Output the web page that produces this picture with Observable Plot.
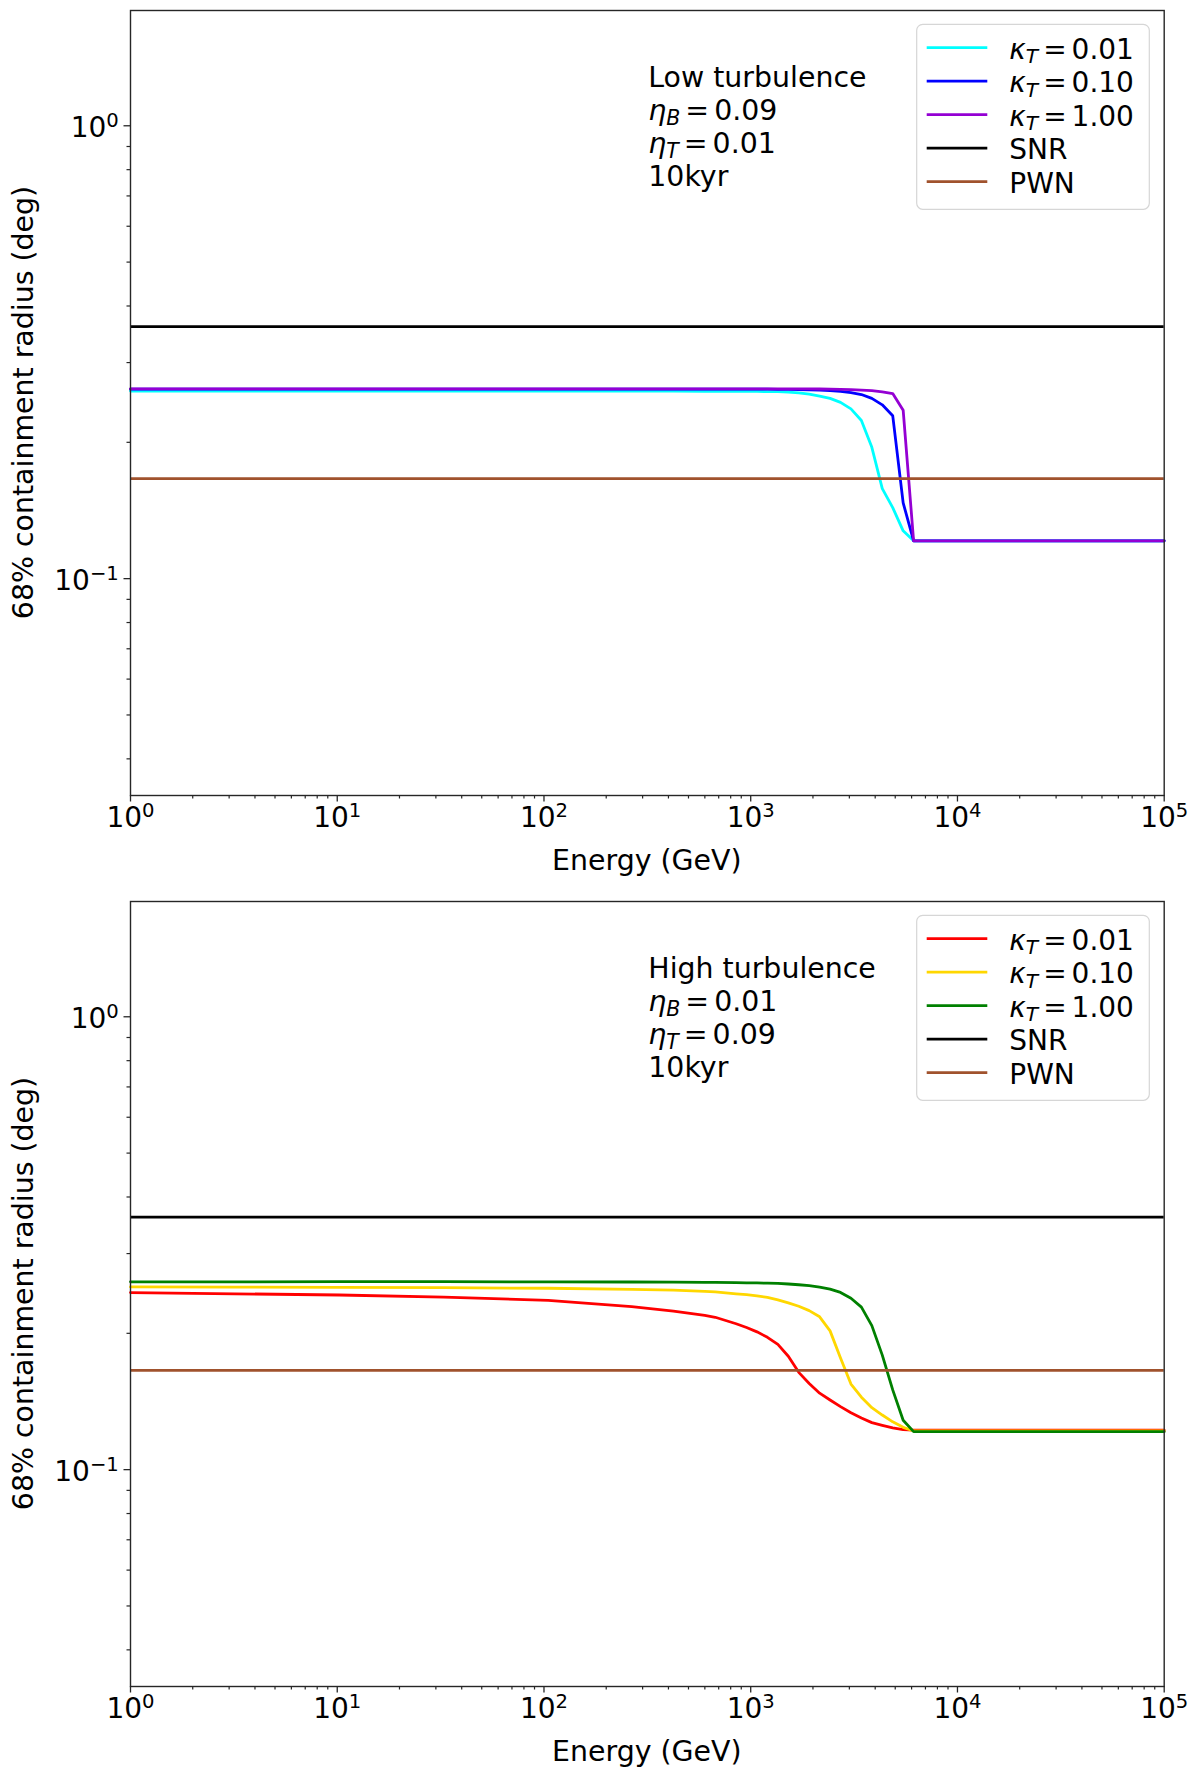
<!DOCTYPE html>
<html>
<head>
<meta charset="utf-8">
<script src="https://cdn.jsdelivr.net/npm/d3@7"></script>
<script src="https://cdn.jsdelivr.net/npm/@observablehq/plot@0.6"></script>
<style>
  body { margin: 0; background: #fff; }
  svg { display: block; }
</style>
</head>
<body>
<div id="chart"></div>
<script>
// ---------- data ----------
const energyGeV = [1, 3.199, 10.23, 32.75, 104.8, 265.6, 422.9, 599.5, 673.4, 849.8, 954.7,
  1072.3, 1204.5, 1353.0, 1519.9, 1707.4, 1917.9, 2154.4, 2420.1, 2718.6, 3053.9,
  3430.5, 3853.5, 4328.8, 4862.6, 5462.3, 6135.9, 100000];

// Low turbulence panel (eta_B = 0.09, eta_T = 0.01)
const lowKappa001 = [0.2595, 0.2595, 0.2595, 0.2595, 0.2595, 0.2595, 0.2594, 0.2593, 0.2593, 0.2592, 0.2591,
  0.2590, 0.2589, 0.2587, 0.2582, 0.2572, 0.2555, 0.2530, 0.2500, 0.2450, 0.2370,
  0.2235, 0.1950, 0.1580, 0.1435, 0.1275, 0.1212, 0.1212];
const lowKappa010 = [0.2620, 0.2620, 0.2620, 0.2620, 0.2620, 0.2620, 0.2620, 0.2620, 0.2620, 0.2620, 0.2620,
  0.2620, 0.2620, 0.2619, 0.2618, 0.2616, 0.2613, 0.2608, 0.2600, 0.2590, 0.2575,
  0.2550, 0.2500, 0.2420, 0.2290, 0.1470, 0.1212, 0.1212];
const lowKappa100 = [0.2625, 0.2625, 0.2625, 0.2625, 0.2625, 0.2625, 0.2625, 0.2625, 0.2625, 0.2625, 0.2625,
  0.2625, 0.2625, 0.2625, 0.2625, 0.2625, 0.2625, 0.2623, 0.2621, 0.2618, 0.2614,
  0.2608, 0.2600, 0.2585, 0.2563, 0.2355, 0.1212, 0.1212];

// High turbulence panel (eta_B = 0.01, eta_T = 0.09)
const highKappa001 = [0.2460, 0.2445, 0.2430, 0.2405, 0.2365, 0.2290, 0.2240, 0.2190, 0.2170, 0.2100, 0.2060,
  0.2015, 0.1960, 0.1890, 0.1780, 0.1640, 0.1550, 0.1475, 0.1425, 0.1378, 0.1335,
  0.1300, 0.1270, 0.1253, 0.1237, 0.1226, 0.1222, 0.1222];
const highKappa010 = [0.2532, 0.2530, 0.2527, 0.2522, 0.2515, 0.2500, 0.2490, 0.2475, 0.2468, 0.2445, 0.2435,
  0.2420, 0.2400, 0.2370, 0.2335, 0.2295, 0.2245, 0.2175, 0.2025, 0.1765, 0.1545,
  0.1445, 0.1370, 0.1320, 0.1275, 0.1240, 0.1217, 0.1217];
const highKappa100 = [0.2598, 0.2598, 0.2600, 0.2600, 0.2598, 0.2596, 0.2594, 0.2592, 0.2591, 0.2588, 0.2586,
  0.2584, 0.2581, 0.2577, 0.2570, 0.2560, 0.2548, 0.2530, 0.2503, 0.2462, 0.2390,
  0.2285, 0.2080, 0.1790, 0.1500, 0.1285, 0.1213, 0.1213];

const snrRadiusLow = 0.360, pwnRadiusLow = 0.1663;
const snrRadiusHigh = 0.361, pwnRadiusHigh = 0.1657;

const kappaLabels = ["0.01", "0.10", "1.00"];
const lowColors = ["#00ffff", "#0000ff", "#9400d3"];
const highColors = ["#ff0000", "#ffd700", "#008000"];
const snrColor = "#000000", pwnColor = "#a0522d";

const xMajorTicks = [1, 10, 100, 1000, 10000, 100000];
const xMinorTicks = [2,3,4,5,6,7,8,9, 20,30,40,50,60,70,80,90, 200,300,400,500,600,700,800,900,
  2000,3000,4000,5000,6000,7000,8000,9000, 20000,30000,40000,50000,60000,70000,80000,90000];
const yMajorTicks = [0.1, 1];
const yMinorTicks = [0.04,0.05,0.06,0.07,0.08,0.09, 0.2,0.3,0.4,0.5,0.6,0.7,0.8,0.9];
const yDomain = [0.0332, 1.797];

const xLabel = "Energy (GeV)";
const yLabel = "68% containment radius (deg)";

// ---------- layout ----------
const W = 1200, ML = 130, MR = 36.3;
const FONT = "'DejaVu Sans', 'Liberation Sans', sans-serif";
const axisColor = "#262626";

const panels = [
  {height: 888, marginTop: 10, marginBottom: 93, regime: "Low turbulence", etaB: "0.09", etaT: "0.01",
   series: [lowKappa001, lowKappa010, lowKappa100], colors: lowColors, snr: snrRadiusLow, pwn: pwnRadiusLow},
  {height: 889, marginTop: 13, marginBottom: 91, regime: "High turbulence", etaB: "0.01", etaT: "0.09",
   series: [highKappa001, highKappa010, highKappa100], colors: highColors, snr: snrRadiusHigh, pwn: pwnRadiusHigh}
];

function expLabel(d) {
  const e = Math.round(Math.log10(d));
  return e < 0 ? "\u2212" + (-e) : String(e);
}

function supFormat(node) {
  const exp = node.textContent;
  if (!exp) return false;
  const t = d3.select(node);
  t.text(null);
  t.append("tspan").text("10");
  t.append("tspan").attr("dy", -10.5).attr("font-size", "0.7em").text(exp);
  return true;
}

function mathLine(g, x, y, sym, sub, value, size) {
  const t = g.append("text").attr("x", x).attr("y", y).attr("text-anchor", "start")
    .attr("font-size", size).attr("fill", "black");
  t.append("tspan").attr("font-style", "italic").text(sym);
  t.append("tspan").attr("font-style", "italic").attr("font-size", "0.72em").attr("dy", 4.5).text(sub);
  t.append("tspan").attr("dy", -4.5).attr("dx", 5).text("=");
  t.append("tspan").attr("dx", 5).text(value);
  return t;
}

function makePanel(p) {
  const marks = [
    Plot.axisX(xMinorTicks, {tickSize: 3.5, text: null, stroke: axisColor, strokeWidth: 1.2, label: null}),
    Plot.axisX(xMajorTicks, {tickSize: 6.5, tickPadding: 5.3, tickFormat: expLabel, fontSize: 28,
      stroke: axisColor, fill: "black", strokeWidth: 1.3, label: null}),
    Plot.axisY(yMinorTicks, {tickSize: 3.5, text: null, stroke: axisColor, strokeWidth: 1.2, label: null}),
    Plot.axisY(yMajorTicks, {tickSize: 6.5, tickPadding: 5.2, tickFormat: expLabel, fontSize: 28,
      stroke: axisColor, fill: "black", strokeWidth: 1.3, label: null}),
    ...p.series.map((vals, i) => Plot.line(energyGeV.map((e, j) => ({E: e, r: vals[j]})),
      {x: "E", y: "r", stroke: p.colors[i], strokeWidth: 2.8})),
    Plot.ruleY([p.snr], {stroke: snrColor, strokeWidth: 2.8}),
    Plot.ruleY([p.pwn], {stroke: pwnColor, strokeWidth: 2.8}),
    Plot.frame({stroke: axisColor, strokeWidth: 1.4})
  ];
  const svg = Plot.plot({
    width: W, height: p.height,
    marginLeft: ML, marginRight: MR, marginTop: p.marginTop, marginBottom: p.marginBottom,
    x: {type: "log", domain: [1, 1e5], label: null},
    y: {type: "log", domain: yDomain, label: null},
    style: {fontFamily: FONT, background: "white", color: "black"},
    marks
  });

  const s = d3.select(svg);
  s.selectAll('[aria-label="x-axis tick label"] text').each(function () {
    if (!this.textContent) { this.remove(); return; }
    supFormat(this);
  });
  s.selectAll('[aria-label="y-axis tick label"] text').each(function () {
    if (!this.textContent) { this.remove(); return; }
    supFormat(this);
    d3.select(this).attr("dy", "0.09em");
  });

  const fx0 = ML, fx1 = W - MR, fy0 = p.marginTop, fy1 = p.height - p.marginBottom;

  // axis titles
  s.append("text").attr("x", (fx0 + fx1) / 2).attr("y", fy1 + 75)
    .attr("text-anchor", "middle").attr("font-size", 28.4).attr("fill", "black").text(xLabel);
  s.append("text").attr("transform", `translate(33.3,${(fy0 + fy1) / 2}) rotate(-90)`)
    .attr("text-anchor", "middle").attr("font-size", 28.4).attr("fill", "black").text(yLabel);

  // annotation
  const ax = fx0 + 518.3, ay = fy0 + 77.3, step = 32.9;
  const ann = s.append("g");
  ann.append("text").attr("x", ax).attr("y", ay).attr("text-anchor", "start")
    .attr("font-size", 28.4).attr("fill", "black").text(p.regime);
  mathLine(ann, ax, ay + step, "\u03b7", "B", p.etaB, 28.4);
  mathLine(ann, ax, ay + 2 * step, "\u03b7", "T", p.etaT, 28.4);
  ann.append("text").attr("x", ax).attr("y", ay + 3 * step).attr("text-anchor", "start")
    .attr("font-size", 28.4).attr("fill", "black").text("10kyr");

  // legend
  const bw = 232.6, bh = 185, bx = fx1 - 14.4 - bw, by = fy0 + 14.3;
  const lg = s.append("g");
  lg.append("rect").attr("x", bx).attr("y", by).attr("width", bw).attr("height", bh)
    .attr("rx", 6).attr("fill", "white").attr("fill-opacity", 0.8)
    .attr("stroke", "#d6d6d6").attr("stroke-width", 1.2);
  const entries = [
    ...kappaLabels.map((k, i) => ({color: p.colors[i], kappa: k})),
    {color: snrColor, text: "SNR"},
    {color: pwnColor, text: "PWN"}
  ];
  entries.forEach((en, i) => {
    const cy = by + 23.4 + 33.5 * i;
    lg.append("line").attr("x1", bx + 10).attr("x2", bx + 70.6).attr("y1", cy).attr("y2", cy)
      .attr("stroke", en.color).attr("stroke-width", 2.8);
    if (en.kappa) {
      mathLine(lg, bx + 92.6, cy + 11, "\u03ba", "T", en.kappa, 28);
    } else {
      lg.append("text").attr("x", bx + 92.6).attr("y", cy + 11).attr("text-anchor", "start")
        .attr("font-size", 28).attr("fill", "black").text(en.text);
    }
  });
  return svg;
}

const root = document.getElementById("chart");
panels.forEach(p => root.appendChild(makePanel(p)));
</script>
</body>
</html>
